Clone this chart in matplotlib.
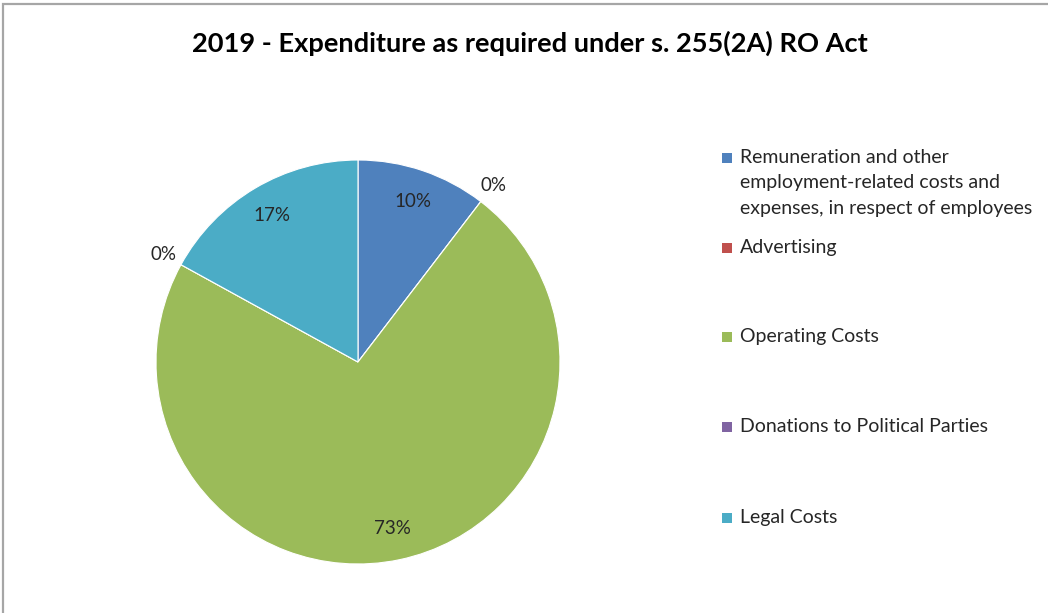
import matplotlib.pyplot as plt
from matplotlib.patches import Rectangle

plt.rcParams['font.family'] = ['Lato', 'DejaVu Sans']

# data
categories = ['Remuneration and other\nemployment-related costs and\nexpenses, in respect of employees',
              'Advertising', 'Operating Costs', 'Donations to Political Parties', 'Legal Costs']
values = [10.4, 0, 72.6, 0, 17.0]
colors = ['#4F81BD', '#C0504D', '#9BBB59', '#8064A2', '#4BACC6']
title = '2019 - Expenditure as required under s. 255(2A) RO Act'

W, H = 1048, 613
fig = plt.figure(figsize=(W / 100, H / 100), dpi=100)

# grey frame of the chart area (only top and left are visible in the crop)
fig.patches.append(Rectangle((3 / W, -0.1), 1.2, 1.1 - 4 / H, transform=fig.transFigure,
                             fill=False, edgecolor='#A6A6A6', linewidth=1.6))

fig.text(530 / W, 1 - 43 / H, title, ha='center', va='center',
         fontsize=19.6, fontweight='bold', color='black')

# pie: centre (358, 362), radius 202 px
ax = fig.add_axes([156 / W, (H - 564) / H, 404 / W, 404 / H])
wedges, texts, autotexts = ax.pie(values, colors=colors, startangle=90, counterclock=False,
                                  autopct='%1.0f%%', pctdistance=0.84, radius=1,
                                  wedgeprops=dict(edgecolor='white', linewidth=0.8),
                                  textprops=dict(fontsize=13.5, color='#262626'))
# zero slices get their label just outside the rim
for v, t in zip(values, autotexts):
    if v == 0:
        x, y = t.get_position()
        t.set_position((x * 1.1 / 0.84, y * 1.1 / 0.84))
ax.set_xlim(-1, 1)
ax.set_ylim(-1, 1)
ax.set_aspect('equal')
ax.axis('off')

# legend, drawn entry by entry
leg_y = [158, 248, 337, 427, 518]
for lab, c, y in zip(categories, colors, leg_y):
    fig.patches.append(Rectangle((722 / W, 1 - (y + 5) / H), 10 / W, 10 / H,
                                 transform=fig.transFigure, facecolor=c, edgecolor='none'))
    fig.text(740 / W, 1 - (y - 9) / H, lab, ha='left', va='top',
             fontsize=14, color='#262626', linespacing=1.6)

fig.savefig('out.png', dpi=100)
